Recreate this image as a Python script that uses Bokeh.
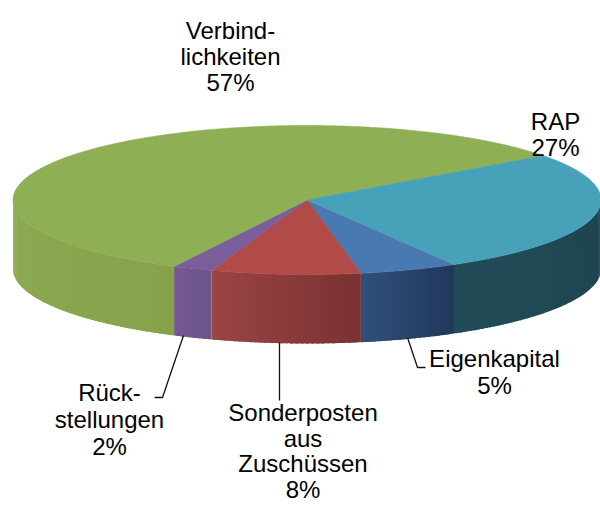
import numpy as np
from bokeh.plotting import figure
from bokeh.models import Range1d
from bokeh.embed import file_html
from bokeh.resources import INLINE
from bokeh.core.properties import value

# ---- data -------------------------------------------------------------
categories = ["Eigenkapital", "Sonderposten aus Zuschüssen", "Rückstellungen",
              "Verbindlichkeiten", "RAP"]
shares = [5.4, 8.2, 2.2, 57.4, 26.8]
label_lines = [["Eigenkapital"], ["Sonderposten", "aus", "Zuschüssen"],
               ["Rück-", "stellungen"], ["Verbind-", "lichkeiten"], ["RAP"]]
top_colors = ["#4879B1", "#B04B47", "#7A5E9C", "#8FAF55", "#47A1B8"]
side_light = ["#30507A", "#9A4543", "#745A90", "#8DAB52", "#214C57"]
side_dark = ["#22375A", "#7A3131", "#6B5287", "#86A34C", "#1E4450"]

# ---- layout -----------------------------------------------------------
W, H = 600, 505
CX, CY, RX, RY, DEPTH = 306.5, 199.5, 294.0, 74.5, 69.0
START = 150.0  # degrees, clockwise from 12 o'clock

label_pos = {  # center x, first text y, line step
    "Eigenkapital": (494, 358, 27),
    "Sonderposten aus Zuschüssen": (302.5, 412, 25.7),
    "Rückstellungen": (109, 392, 27),
    "Verbindlichkeiten": (230, 30, 26),
    "RAP": (555, 121, 26),
}
leaders = {
    "Eigenkapital": ([407, 417, 425], [337, 367, 367]),
    "Sonderposten aus Zuschüssen": ([279, 279], [342, 400]),
    "Rückstellungen": ([183, 162, 154], [335, 397, 397]),
}


def pt(theta, dy=0.0):
    t = np.radians(theta)
    return CX + RX * np.sin(t), CY - RY * np.cos(t) + dy


def hex2rgb(h):
    return np.array([int(h[i:i + 2], 16) for i in (1, 3, 5)], dtype=float)


def rgb2hex(c):
    return "#%02x%02x%02x" % tuple(int(round(v)) for v in c)


p = figure(width=W, height=H, x_range=Range1d(0, W), y_range=Range1d(H, 0),
           output_backend="svg", toolbar_location=None,
           x_axis_location=None, y_axis_location=None, min_border=0)
p.grid.visible = False
p.outline_line_color = None
p.background_fill_color = "white"
p.border_fill_color = "white"

total = float(sum(shares))
bounds = []
a = START
for v in shares:
    b = a + v / total * 360.0
    bounds.append((a, b))
    a = b

# ---- sides (front half only), overlapping strips for a smooth gradient ---
sx, sy, sc = [], [], []
for i, (a0, a1) in enumerate(bounds):
    for shift in (-360.0, 0.0, 360.0):
        lo = max(a0 + shift, 90.0)
        hi = min(a1 + shift, 270.0)
        if hi <= lo:
            continue
        n = max(2, int((hi - lo) / 1.0))
        step = (hi - lo) / n
        cl, cd = hex2rgb(side_light[i]), hex2rgb(side_dark[i])
        for j in range(n):
            s0 = lo + step * j
            s1 = min(hi, s0 + step * 1.6)
            f = (s0 + 0.5 * step - lo) / (hi - lo)
            col = rgb2hex(cd * (1 - f) + cl * f)
            th = np.linspace(s0, s1, 5)
            xt, yt = pt(th)
            xb, yb = pt(th[::-1], DEPTH)
            sx.append(list(xt) + list(xb))
            sy.append(list(yt) + list(yb))
            sc.append(col)
p.patches(sx, sy, fill_color=sc, line_color=None)

# ---- top faces ---------------------------------------------------------
tx, ty = [], []
for (a0, a1) in bounds:
    th = np.linspace(a0, a1, max(3, int((a1 - a0) * 2)))
    x, y = pt(th)
    tx.append([CX] + list(x))
    ty.append([CY] + list(y))
p.patches(tx, ty, fill_color=top_colors, line_color=top_colors, line_width=0.6)

# ---- leader lines --------------------------------------------------------
for name, (lx, ly) in leaders.items():
    p.line(lx, ly, line_color="#111111", line_width=1.3)

# ---- labels --------------------------------------------------------------
xs, ys, texts = [], [], []
for name, lines, v in zip(categories, label_lines, shares):
    cx, y0, stp = label_pos[name]
    all_lines = lines + ["%d%%" % round(v)]
    for k, t in enumerate(all_lines):
        xs.append(cx)
        ys.append(y0 + k * stp)
        texts.append(t)
p.text(x=xs, y=ys, text=texts, text_font=value("Liberation Sans"),
       text_font_size="24px", text_align="center", text_baseline="alphabetic",
       text_color="#000000")

open("out.html", "w").write(file_html(p, INLINE))
